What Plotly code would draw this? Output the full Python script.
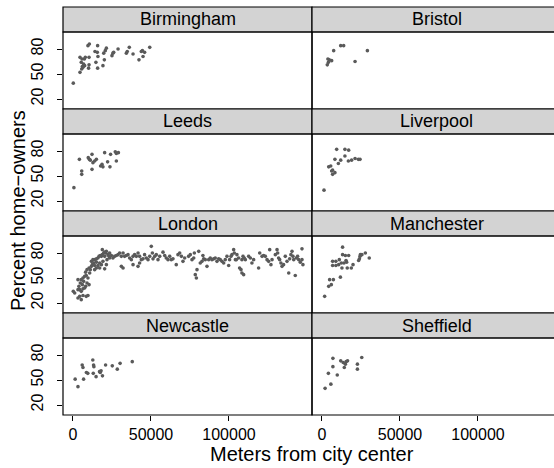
import plotly.graph_objects as go

# ---------------- data ----------------
cities = ["Birmingham", "Bristol", "Leeds", "Liverpool",
          "London", "Manchester", "Newcastle", "Sheffield"]

birmingham_x = [200, 4500, 5600, 6000, 6400, 6800, 4500, 5800, 7300, 7900, 10300, 10300,
                10000, 9600, 10500, 15800, 14100, 15600, 16000, 14700, 15800, 19200, 20100,
                19700, 21400, 20700, 25000, 25600, 26100, 28900, 34200, 34800, 36100, 38500,
                42300, 43800, 44500, 44900, 45900, 49200, 5300, 7500]
birmingham_y = [39, 52, 56, 59, 58, 62, 70, 68, 68, 70, 70, 61,
                57, 84, 86, 84, 77, 76, 71, 64, 57, 60, 67,
                75, 81, 78, 72, 75, 76, 80, 75, 77, 82, 74,
                67, 77, 78, 71, 76, 82, 64, 60]

bristol_x = [3400, 4100, 4700, 6200, 3800, 7500, 12000, 13900, 21200, 29100]
bristol_y = [61, 64, 67, 66, 68, 78, 84, 84, 65, 78]

leeds_x = [600, 4100, 5600, 5600, 9800, 10500, 11100, 12200, 12800, 13900, 15000, 12200,
           17700, 18600, 19200, 20300, 22200, 23700, 24100, 27100, 27800, 29100, 27800]
leeds_y = [36, 70, 56, 52, 72, 70, 69, 76, 66, 68, 70, 58,
           62, 64, 61, 78, 67, 61, 76, 79, 77, 78, 68]

liverpool_x = [1300, 4300, 6200, 6800, 8300, 5600, 8300, 10500, 12000, 9400, 14700, 17100,
               14700, 16900, 19000, 21200, 23300, 24400, 6800]
liverpool_y = [33, 61, 56, 52, 54, 62, 70, 65, 69, 82, 82, 81,
               74, 68, 69, 71, 70, 70, 57]

london_x = [200, 1100, 3200, 4300, 5300, 6400, 7500, 3200, 4300, 5300, 6400, 8500,
            9600, 3800, 4700, 6000, 6800, 8100, 9000, 10300, 3200, 5300, 6400, 7500,
            8500, 9600, 10700, 8100, 9000, 10300, 11100, 11800, 12400, 13300, 13900, 15000,
            11800, 12800, 13900, 15000, 16000, 16700, 17500, 18200, 18800, 19700, 20300, 20900,
            21400, 18800, 20300, 22400, 23500, 23100, 21800, 19200, 17100, 16000, 15000, 13900,
            17100, 20300, 18200, 21400, 23500, 24600, 25600, 26700, 27800, 28900, 29900, 31000,
            32100, 33100, 34200, 35300, 36300, 37400, 38500, 39500, 40600, 41700, 42700, 43800,
            44900, 45900, 47000, 48100, 49200, 50200, 50900, 51300, 52400, 53400, 54500, 55600,
            57700, 58800, 59800, 60900, 62000, 63000, 64100, 66200, 67300, 68400, 69500, 70500,
            71600, 31000, 32100, 38500, 41700, 42700,
            74100, 75200, 76300, 77400, 77800, 78400, 79100, 79500, 80600, 81600, 82700, 83300,
            83800, 84800, 85900, 87000, 88000, 89100, 90200, 91200, 92300, 93400, 94400, 95500,
            96600, 97600, 98700, 99800, 100400, 101300, 101900, 103000, 103400, 104100, 104700,
            105100, 106200, 106800, 107700, 108300, 109400, 108300, 109000, 109800, 110500,
            112600, 113700, 114700, 115800, 119000, 119700, 121200, 122200, 123300, 124400,
            125400, 126100, 126900, 127600, 129700, 130800, 131200, 131800, 132500, 133300,
            134000, 135000, 136100, 137200, 138300, 138900, 139700, 140400, 141000, 141500,
            142500, 143200, 144000, 144700, 145700, 146800, 147400, 146800]
london_y = [34, 32, 36, 36, 34, 37, 38, 26, 28, 24, 29, 28,
            29, 40, 44, 42, 46, 40, 44, 42, 48, 48, 50, 52,
            53, 50, 56, 57, 60, 62, 60, 64, 66, 68, 65, 69,
            70, 72, 72, 73, 74, 76, 77, 76, 78, 80, 76, 80,
            82, 84, 81, 78, 80, 76, 72, 70, 68, 65, 62, 60,
            62, 61, 66, 66, 74, 77, 74, 76, 77, 78, 80, 76,
            80, 76, 77, 78, 74, 72, 76, 78, 76, 80, 76, 72,
            73, 78, 74, 72, 76, 88, 80, 73, 76, 78, 72, 76,
            81, 77, 74, 72, 76, 72, 73, 66, 78, 80, 76, 70,
            74, 64, 62, 66, 64, 68,
            76, 78, 72, 74, 80, 54, 50, 60, 82, 68, 70, 77,
            73, 72, 64, 72, 74, 72, 73, 74, 70, 73, 72, 70,
            68, 72, 76, 65, 72, 76, 78, 84, 80, 72, 72,
            78, 74, 62, 60, 56, 54, 72, 76, 74, 72,
            76, 74, 68, 72, 62, 80, 76, 77, 76, 72,
            70, 84, 66, 72, 78, 84, 80, 74, 72, 68,
            64, 66, 76, 70, 56, 73, 78, 82, 76, 72,
            53, 74, 76, 72, 69, 85, 66, 72]

manchester_x = [1700, 4300, 4900, 6000, 7300, 6800, 6800, 8900, 8900, 10700, 11100, 11800,
                12400, 12800, 13200, 13200, 14100, 15000, 15400, 15800, 16200, 17100, 18800,
                19900, 23500, 24000, 24400, 24600, 25600, 27800, 30300]
manchester_y = [28, 40, 48, 42, 48, 70, 65, 70, 65, 66, 72, 51,
                68, 62, 87, 78, 68, 77, 71, 69, 62, 77, 62,
                66, 71, 73, 76, 78, 78, 80, 74]

newcastle_x = [1400, 3200, 5900, 6400, 6800, 8600, 9500, 12700, 13200, 13400, 13000, 14800,
               17000, 18000, 18900, 20900, 25200, 28400, 30200, 38000, 17500]
newcastle_y = [51, 42, 68, 65, 51, 59, 58, 74, 68, 66, 58, 54,
               60, 61, 55, 68, 67, 63, 70, 72, 59]

sheffield_x = [2000, 4100, 5700, 7000, 7000, 9800, 12000, 14300, 15000, 15500, 16400,
               22700, 22700, 25500, 13600]
sheffield_y = [40, 58, 45, 76, 66, 56, 73, 65, 69, 72, 73,
               69, 63, 77, 71]

city_x = [birmingham_x, bristol_x, leeds_x, liverpool_x,
          london_x, manchester_x, newcastle_x, sheffield_x]
city_y = [birmingham_y, bristol_y, leeds_y, liverpool_y,
          london_y, manchester_y, newcastle_y, sheffield_y]

x_ticks = [0, 50000, 100000]
x_tick_labels = ["0", "50000", "100000"]
y_ticks = [20, 50, 80]
y_tick_labels = ["20", "50", "80"]

x_title = "Meters from city center"
y_title = "Percent home\u2212owners"

# ---------------- layout geometry ----------------
W, H = 554, 468
FONT = "Liberation Sans, Arial, Helvetica, sans-serif"
col_left = [63, 312]
col_width = 249           # full (unclipped) panel width
row_top = [7, 109, 211, 313]
strip_h = 25
panel_h = 77
x_min = -6400
units_per_px = 50000 / 78.0
y_range = [8, 100.4]

fig = go.Figure()
shapes = []
annotations = []

for k, name in enumerate(cities):
    r, c = divmod(k, 2)
    idx = k + 1
    xa = "xaxis" if idx == 1 else f"xaxis{idx}"
    ya = "yaxis" if idx == 1 else f"yaxis{idx}"
    xref = "x" if idx == 1 else f"x{idx}"
    yref = "y" if idx == 1 else f"y{idx}"

    x0 = col_left[c]
    x1 = min(col_left[c] + col_width, W)
    s_top = row_top[r]
    p_top = s_top + strip_h
    p_bot = p_top + panel_h

    fig.add_trace(go.Scatter(
        x=city_x[k], y=city_y[k], mode="markers", xaxis=xref, yaxis=yref,
        marker=dict(size=3.6, color="#5a5a5a", line=dict(width=0)),
        showlegend=False, hoverinfo="skip"))

    bottom_row = (r == 3)
    left_col = (c == 0)
    fig.layout[xa] = dict(
        domain=[x0 / W, x1 / W], anchor=yref,
        range=[x_min, x_min + (x1 - x0) * units_per_px],
        showgrid=False, zeroline=False, showline=False,
        tickvals=x_ticks, ticktext=x_tick_labels,
        showticklabels=bottom_row,
        ticks="outside" if bottom_row else "", ticklen=5, tickwidth=1, tickcolor="black",
        tickfont=dict(family=FONT, size=16, color="black"),
        fixedrange=True)
    fig.layout[ya] = dict(
        domain=[1 - p_bot / H, 1 - p_top / H], anchor=xref,
        range=y_range,
        showgrid=False, zeroline=False, showline=False,
        tickvals=y_ticks, ticktext=y_tick_labels,
        showticklabels=left_col, tickangle=-90,
        ticks="outside" if left_col else "", ticklen=5, tickwidth=1, tickcolor="black",
        ticklabelstandoff=8,
        tickfont=dict(family=FONT, size=16, color="black"),
        fixedrange=True)

    full_x1 = (col_left[c] + col_width) / W
    # strip
    shapes.append(dict(type="rect", xref="paper", yref="paper",
                       x0=x0 / W, x1=full_x1, y0=1 - p_top / H, y1=1 - s_top / H,
                       fillcolor="#d3d3d3", line=dict(color="black", width=1.2),
                       layer="above"))
    # panel border
    shapes.append(dict(type="rect", xref="paper", yref="paper",
                       x0=x0 / W, x1=full_x1, y0=1 - p_bot / H, y1=1 - p_top / H,
                       fillcolor="rgba(0,0,0,0)", line=dict(color="black", width=1.2),
                       layer="above"))
    annotations.append(dict(text=name, xref="paper", yref="paper",
                            x=(col_left[c] + col_width / 2) / W,
                            y=1 - (s_top + strip_h / 2) / H,
                            xanchor="center", yanchor="middle", showarrow=False,
                            font=dict(family=FONT, size=18, color="black")))

annotations.append(dict(text=x_title, xref="paper", yref="paper",
                        x=312 / W, y=1 - 454 / H, xanchor="center", yanchor="middle",
                        showarrow=False, font=dict(family=FONT, size=20, color="black")))
annotations.append(dict(text=y_title, xref="paper", yref="paper", textangle=-90,
                        x=18 / W, y=1 - 211 / H, xanchor="center", yanchor="middle",
                        showarrow=False, font=dict(family=FONT, size=20, color="black")))

fig.update_layout(
    width=W, height=H, margin=dict(l=0, r=0, t=0, b=0),
    paper_bgcolor="white", plot_bgcolor="rgba(0,0,0,0)",
    shapes=shapes, annotations=annotations, showlegend=False,
    font=dict(family=FONT, color="black"))

fig.write_html("out.html")
